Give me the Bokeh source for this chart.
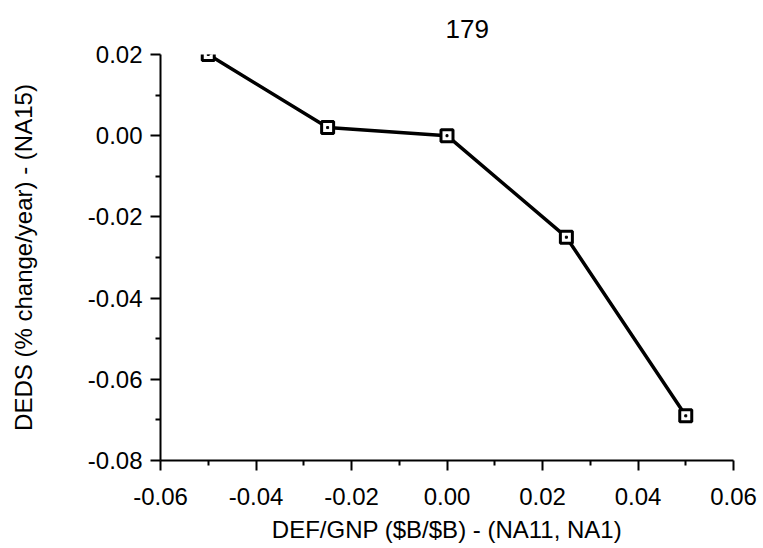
from bokeh.plotting import figure
from bokeh.models import Range1d, NumeralTickFormatter, Title, FixedTicker
from bokeh.embed import file_html
from bokeh.resources import INLINE

# data
def_gnp = [-0.05, -0.025, 0.0, 0.025, 0.05]
deds = [0.020, 0.002, 0.000, -0.025, -0.069]
x_ticks = [-0.06, -0.04, -0.02, 0.00, 0.02, 0.04, 0.06]
y_ticks = [-0.08, -0.06, -0.04, -0.02, 0.00, 0.02]
title_text = "179"
x_label = "DEF/GNP ($B/$B) - (NA11, NA1)"
y_label = "DEDS (% change/year) - (NA15)"

FONT = "Liberation Sans"

p = figure(width=763, height=548, output_backend="svg", toolbar_location=None,
           x_range=Range1d(-0.06, 0.06), y_range=Range1d(-0.08, 0.02),
           min_border_left=160, min_border_right=30, min_border_top=54, min_border_bottom=88)
p.outline_line_color = None
p.grid.visible = False
p.background_fill_color = "white"
p.border_fill_color = "white"

t = Title(text=title_text, align="left", offset=285, text_font=FONT,
          text_font_size="26px", text_font_style="normal", text_color="black", standoff=34)
p.add_layout(t, "above")

for ax in (p.xaxis[0], p.yaxis[0]):
    ax.formatter = NumeralTickFormatter(format="0.00")
    ax.axis_line_width = 2
    ax.axis_line_color = "black"
    ax.major_tick_line_width = 2
    ax.minor_tick_line_width = 2
    ax.major_tick_out = 10
    ax.major_tick_in = 0
    ax.minor_tick_out = 5
    ax.minor_tick_in = 0
    ax.major_label_text_font = FONT
    ax.major_label_text_font_size = "24px"
    ax.major_label_text_color = "black"
    ax.axis_label_text_font = FONT
    ax.axis_label_text_font_size = "24px"
    ax.axis_label_text_font_style = "normal"
    ax.axis_label_text_color = "black"

p.xaxis[0].ticker = FixedTicker(ticks=x_ticks,
                                minor_ticks=[(a + b) / 2 for a, b in zip(x_ticks[:-1], x_ticks[1:])])
p.yaxis[0].ticker = FixedTicker(ticks=y_ticks,
                                minor_ticks=[(a + b) / 2 for a, b in zip(y_ticks[:-1], y_ticks[1:])])
p.xaxis[0].axis_label = x_label
p.yaxis[0].axis_label = y_label
p.xaxis[0].major_label_standoff = 17
p.yaxis[0].major_label_standoff = 8
p.xaxis[0].axis_label_standoff = 8
p.yaxis[0].axis_label_standoff = 48

p.line(def_gnp, deds, line_color="black", line_width=3.5)
p.scatter(def_gnp, deds, marker="square", size=12, fill_color="white",
          line_color="black", line_width=3)
p.scatter(def_gnp, deds, marker="square", size=2, fill_color="black", line_color="black")

open("out.html", "w").write(file_html(p, INLINE))
